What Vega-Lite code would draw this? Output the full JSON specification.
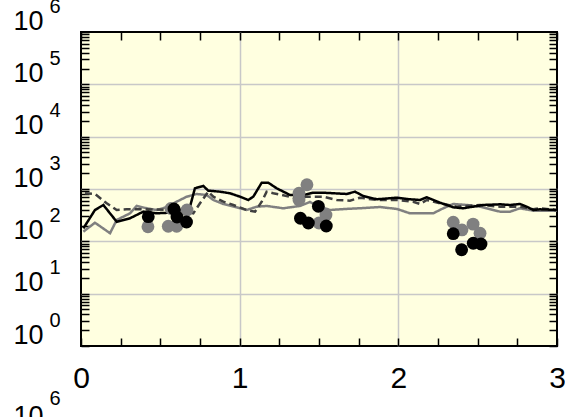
{
 "$schema": "https://vega.github.io/schema/vega-lite/v6.json",
 "width": 476,
 "height": 314,
 "autosize": {"type": "none"},
 "padding": {"left": 81, "top": 32, "right": 8, "bottom": 71},
 "background": "white",
 "config": {
  "view": {"fill": "#ffffe0", "stroke": "black", "strokeWidth": 2},
  "font": "Liberation Sans",
  "axis": {"labelFont": "Liberation Sans", "titleFont": "Liberation Sans", "labelColor": "black", "titleColor": "black", "labelFlush": false, "labelOverlap": false, "domain": false, "tickColor": "black", "tickWidth": 1.5, "gridColor": "#c8c8c8", "gridWidth": 1.5, "titleFontWeight": "normal"}
 },
 "datasets": {
  "lines": [
   {"s":"c","x":0.015,"y":153},{"s":"c","x":0.088,"y":227},{"s":"c","x":0.183,"y":143},{"s":"c","x":0.225,"y":256},{"s":"c","x":0.309,"y":343},{"s":"c","x":0.351,"y":474},{"s":"c","x":0.414,"y":428},{"s":"c","x":0.477,"y":397},{"s":"c","x":0.55,"y":459},{"s":"c","x":0.603,"y":572},{"s":"c","x":0.666,"y":713},{"s":"c","x":0.729,"y":803},{"s":"c","x":0.792,"y":769},{"s":"c","x":0.834,"y":617},{"s":"c","x":0.897,"y":517},{"s":"c","x":0.981,"y":447},{"s":"c","x":1.044,"y":397},{"s":"c","x":1.107,"y":459},{"s":"c","x":1.17,"y":474},{"s":"c","x":1.275,"y":428},{"s":"c","x":1.38,"y":474},{"s":"c","x":1.443,"y":565},{"s":"c","x":1.494,"y":474},{"s":"c","x":1.569,"y":397},{"s":"c","x":1.664,"y":415},{"s":"c","x":1.79,"y":434},{"s":"c","x":1.884,"y":453},{"s":"c","x":1.992,"y":415},{"s":"c","x":2.073,"y":343},{"s":"c","x":2.22,"y":343},{"s":"c","x":2.283,"y":428},{"s":"c","x":2.346,"y":517},{"s":"c","x":2.431,"y":495},{"s":"c","x":2.515,"y":459},{"s":"c","x":2.641,"y":369},{"s":"c","x":2.704,"y":369},{"s":"c","x":2.767,"y":428},{"s":"c","x":2.851,"y":385},{"s":"c","x":3.0,"y":385},
   {"s":"b","x":0.025,"y":828},{"s":"b","x":0.088,"y":803},{"s":"b","x":0.162,"y":533},{"s":"b","x":0.225,"y":397},{"s":"b","x":0.288,"y":409},{"s":"b","x":0.414,"y":409},{"s":"b","x":0.561,"y":397},{"s":"b","x":0.655,"y":380},{"s":"b","x":0.708,"y":343},{"s":"b","x":0.75,"y":533},{"s":"b","x":0.802,"y":889},{"s":"b","x":0.834,"y":713},{"s":"b","x":0.897,"y":572},{"s":"b","x":0.96,"y":495},{"s":"b","x":1.044,"y":397},{"s":"b","x":1.097,"y":369},{"s":"b","x":1.139,"y":572},{"s":"b","x":1.17,"y":889},{"s":"b","x":1.212,"y":828},{"s":"b","x":1.254,"y":785},{"s":"b","x":1.338,"y":682},{"s":"b","x":1.422,"y":713},{"s":"b","x":1.527,"y":713},{"s":"b","x":1.612,"y":617},{"s":"b","x":1.695,"y":598},{"s":"b","x":1.758,"y":682},{"s":"b","x":1.864,"y":617},{"s":"b","x":1.99,"y":617},{"s":"b","x":2.094,"y":572},{"s":"b","x":2.137,"y":517},{"s":"b","x":2.179,"y":617},{"s":"b","x":2.263,"y":533},{"s":"b","x":2.368,"y":459},{"s":"b","x":2.515,"y":495},{"s":"b","x":2.641,"y":459},{"s":"b","x":2.767,"y":459},{"s":"b","x":2.851,"y":409},{"s":"b","x":2.893,"y":428},{"s":"b","x":3.0,"y":397},
   {"s":"a","x":0.015,"y":177},{"s":"a","x":0.088,"y":397},{"s":"a","x":0.141,"y":495},{"s":"a","x":0.225,"y":237},{"s":"a","x":0.309,"y":276},{"s":"a","x":0.393,"y":369},{"s":"a","x":0.477,"y":343},{"s":"a","x":0.561,"y":353},{"s":"a","x":0.624,"y":397},{"s":"a","x":0.687,"y":459},{"s":"a","x":0.718,"y":1032},{"s":"a","x":0.771,"y":1142},{"s":"a","x":0.802,"y":929},{"s":"a","x":0.876,"y":889},{"s":"a","x":0.939,"y":828},{"s":"a","x":1.002,"y":713},{"s":"a","x":1.054,"y":617},{"s":"a","x":1.086,"y":713},{"s":"a","x":1.139,"y":1321},{"s":"a","x":1.18,"y":1321},{"s":"a","x":1.233,"y":1032},{"s":"a","x":1.317,"y":769},{"s":"a","x":1.401,"y":769},{"s":"a","x":1.464,"y":850},{"s":"a","x":1.527,"y":850},{"s":"a","x":1.675,"y":803},{"s":"a","x":1.727,"y":889},{"s":"a","x":1.779,"y":735},{"s":"a","x":1.864,"y":636},{"s":"a","x":1.99,"y":682},{"s":"a","x":2.073,"y":636},{"s":"a","x":2.137,"y":617},{"s":"a","x":2.179,"y":695},{"s":"a","x":2.263,"y":547},{"s":"a","x":2.346,"y":447},{"s":"a","x":2.409,"y":428},{"s":"a","x":2.535,"y":495},{"s":"a","x":2.641,"y":510},{"s":"a","x":2.704,"y":495},{"s":"a","x":2.767,"y":517},{"s":"a","x":2.809,"y":459},{"s":"a","x":2.851,"y":397},{"s":"a","x":2.893,"y":409},{"s":"a","x":3.0,"y":397}
  ],
  "pts": [
   {"g":"gray","x":0.422,"y":190},{"g":"gray","x":0.55,"y":194},{"g":"gray","x":0.603,"y":194},{"g":"gray","x":0.567,"y":424},{"g":"gray","x":0.668,"y":397},{"g":"gray","x":1.424,"y":1208},{"g":"gray","x":1.374,"y":828},{"g":"gray","x":1.374,"y":617},{"g":"gray","x":1.544,"y":319},{"g":"gray","x":1.5,"y":224},{"g":"gray","x":2.346,"y":232},{"g":"gray","x":2.471,"y":213},{"g":"gray","x":2.515,"y":143},{"g":"gray","x":2.401,"y":165},
   {"g":"black","x":0.424,"y":296},{"g":"black","x":0.586,"y":415},{"g":"black","x":0.605,"y":292},{"g":"black","x":0.665,"y":234},{"g":"black","x":1.496,"y":467},{"g":"black","x":1.383,"y":276},{"g":"black","x":1.433,"y":224},{"g":"black","x":1.546,"y":196},{"g":"black","x":2.346,"y":140},{"g":"black","x":2.399,"y":69},{"g":"black","x":2.472,"y":92},{"g":"black","x":2.521,"y":89}
  ]
 },
 "layer": [
  {
   "data": {"name": "lines"},
   "mark": {"type": "line", "strokeWidth": 2.5},
   "encoding": {
    "x": {"field": "x", "type": "quantitative", "scale": {"domain": [0, 3], "nice": false, "zero": false},
     "axis": {"orient": "bottom", "values": [0,0.25,0.5,0.75,1,1.25,1.5,1.75,2,2.25,2.5,2.75,3], "labelExpr": "datum.value % 1 === 0 ? format(datum.value, 'd') : ''", "tickSize": -8, "labelFontSize": 30, "labelPadding": 25, "labelBaseline": "top", "grid": true, "gridOpacity": {"condition": {"test": "datum.value == 1 || datum.value == 2", "value": 1}, "value": 0}, "title": "10", "titleFontSize": 27, "titleAngle": 0, "titleAlign": "right", "titleBaseline": "top", "titleX": -38, "titleY": 57}},
    "y": {"field": "y", "type": "quantitative", "scale": {"type": "log", "domain": [1, 1000000], "nice": false},
     "axis": {"orient": "left", "values": [1,2,3,4,5,6,7,8,9,10,20,30,40,50,60,70,80,90,100,200,300,400,500,600,700,800,900,1000,2000,3000,4000,5000,6000,7000,8000,9000,10000,20000,30000,40000,50000,60000,70000,80000,90000,100000,200000,300000,400000,500000,600000,700000,800000,900000,1000000], "labelExpr": "indexof([1,10,100,1000,10000,100000,1000000], datum.value) >= 0 ? '10' : ''", "tickSize": -8, "labelFontSize": 27, "labelPadding": 46, "labelOffset": -11, "grid": true, "gridOpacity": {"condition": {"test": "indexof([10,100,1000,10000,100000], datum.value) >= 0", "value": 1}, "value": 0}, "title": null}},
    "color": {"field": "s", "type": "nominal", "scale": {"domain": ["a", "b", "c"], "range": ["#000000", "#404040", "#808080"]}, "legend": null},
    "strokeDash": {"field": "s", "type": "nominal", "scale": {"domain": ["a", "b", "c"], "range": [[1, 0], [7, 4], [1, 0]]}, "legend": null}
   }
  },
  {
   "data": {"name": "pts"},
   "transform": [{"filter": "datum.g == 'gray'"}],
   "mark": {"type": "circle", "size": 165, "opacity": 1, "color": "#808080"},
   "encoding": {
    "x": {"field": "x", "type": "quantitative", "scale": {"domain": [0, 3], "nice": false, "zero": false},
     "axis": {"orient": "top", "values": [0,0.25,0.5,0.75,1,1.25,1.5,1.75,2,2.25,2.5,2.75,3], "labels": false, "tickSize": -8, "grid": false, "title": null}},
    "y": {"field": "y", "type": "quantitative", "scale": {"type": "log", "domain": [1, 1000000], "nice": false},
     "axis": {"orient": "right", "values": [1,2,3,4,5,6,7,8,9,10,20,30,40,50,60,70,80,90,100,200,300,400,500,600,700,800,900,1000,2000,3000,4000,5000,6000,7000,8000,9000,10000,20000,30000,40000,50000,60000,70000,80000,90000,100000,200000,300000,400000,500000,600000,700000,800000,900000,1000000], "labels": false, "tickSize": -8, "grid": false, "title": null}}
   }
  },
  {
   "data": {"name": "pts"},
   "transform": [{"filter": "datum.g == 'black'"}],
   "mark": {"type": "circle", "size": 165, "opacity": 1, "color": "#000000"},
   "encoding": {
    "x": {"field": "x", "type": "quantitative", "scale": {"domain": [0, 3], "nice": false, "zero": false}, "axis": null},
    "y": {"field": "y", "type": "quantitative", "scale": {"type": "log", "domain": [1, 1000000], "nice": false},
     "axis": {"orient": "left", "values": [1,10,100,1000,10000,100000,1000000], "labelExpr": "format(log(datum.value)/LN10, '.0f')", "ticks": false, "labelFontSize": 20, "labelAlign": "left", "labelPadding": 32, "labelOffset": -26, "grid": false, "title": "6", "titleFontSize": 20, "titleAngle": 0, "titleAlign": "left", "titleBaseline": "top", "titleX": -32, "titleY": 356}}
   }
  }
 ],
 "resolve": {"scale": {"x": "independent", "y": "independent"}}
}
